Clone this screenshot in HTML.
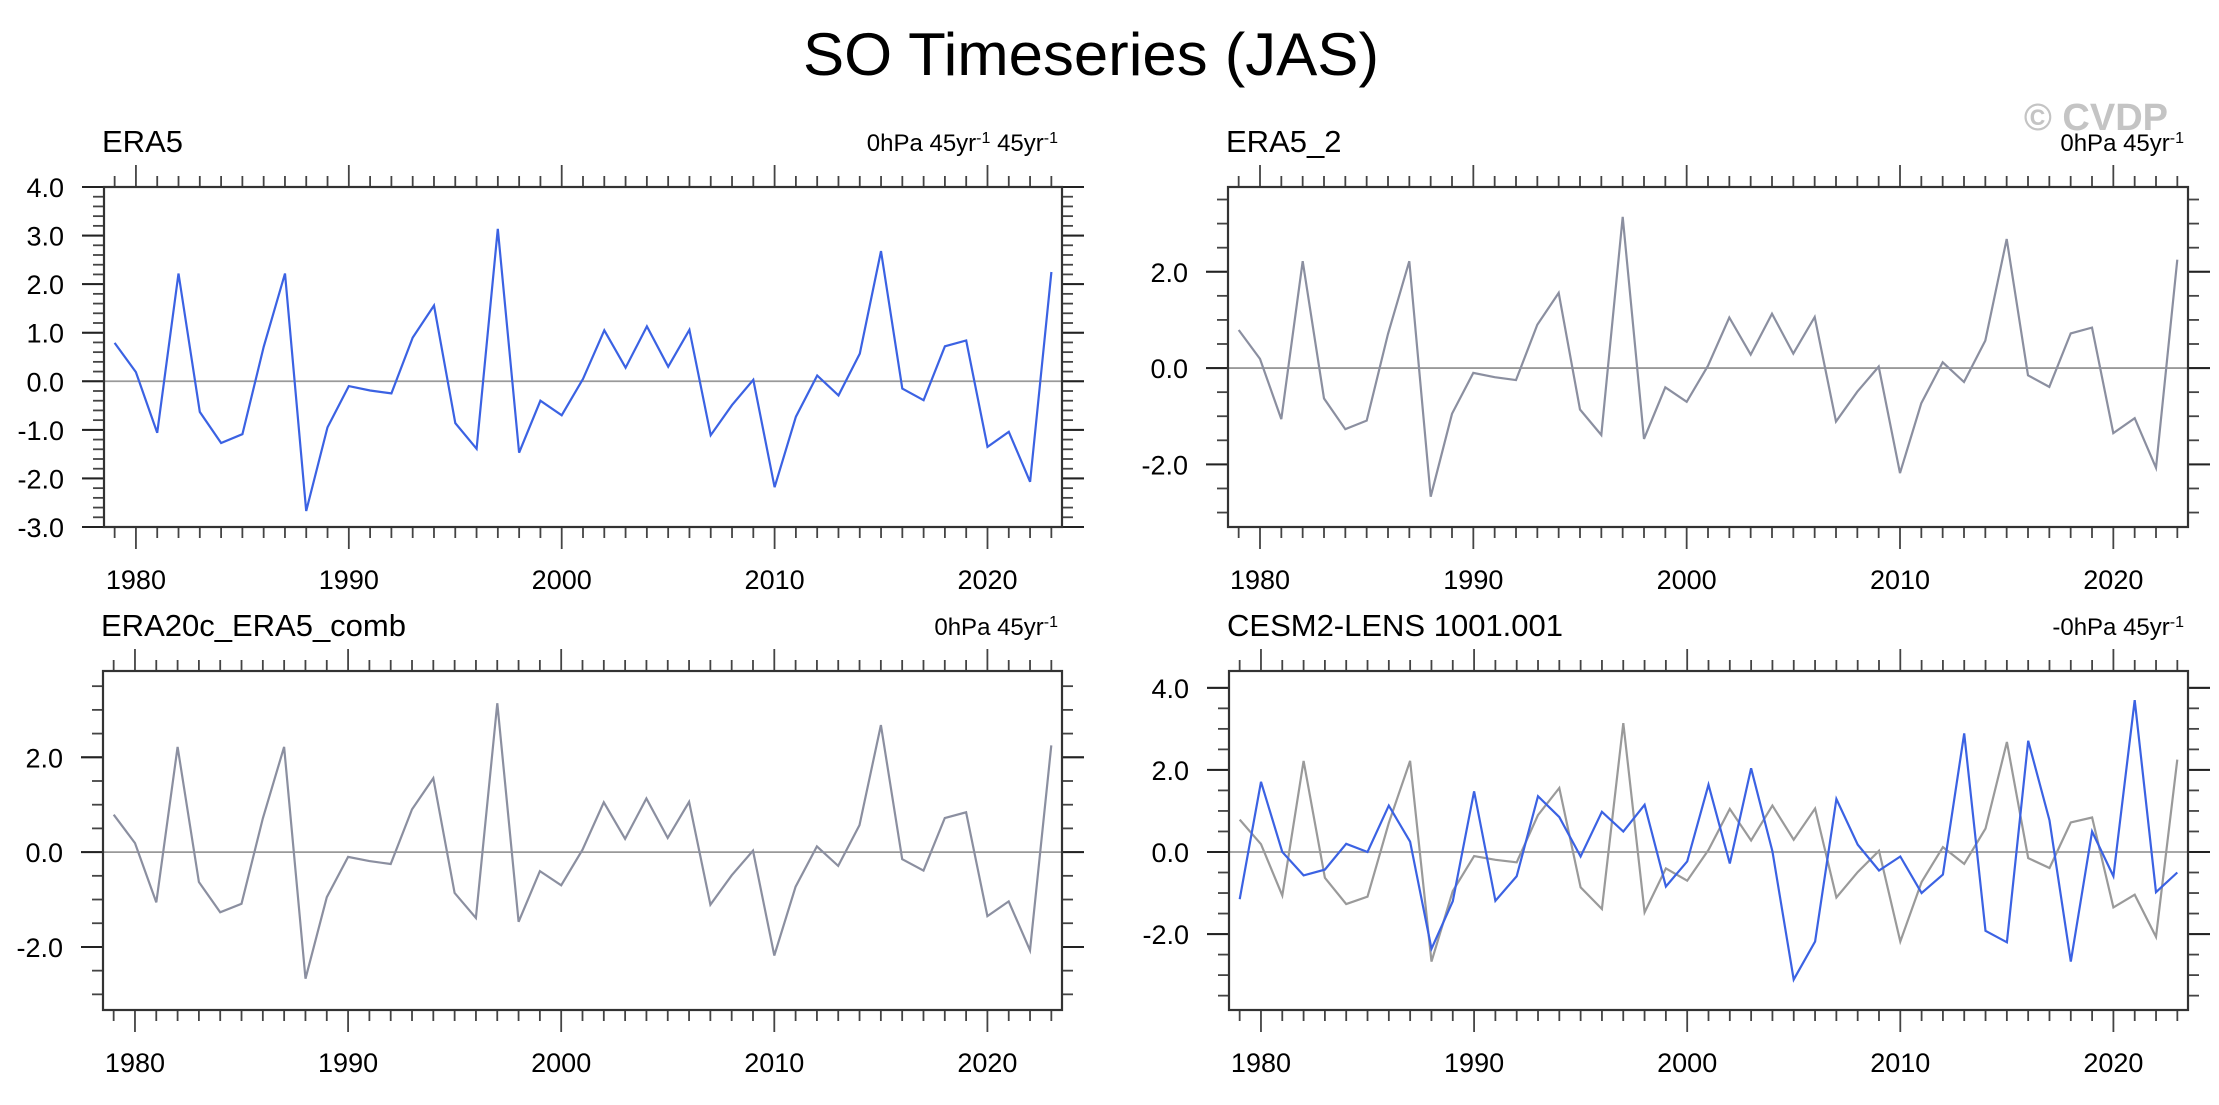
<!DOCTYPE html>
<html><head><meta charset="utf-8"><style>
html,body{margin:0;padding:0;background:#fff;}
svg{display:block;font-family:"Liberation Sans",Arial,sans-serif;}
</style></head><body>
<svg id="chart" width="2219" height="1105" viewBox="0 0 2219 1105" xmlns="http://www.w3.org/2000/svg">
<rect width="2219" height="1105" fill="#fff"/>
<text x="1091" y="75" font-size="60" text-anchor="middle" textLength="576" lengthAdjust="spacingAndGlyphs">SO Timeseries (JAS)</text>
<text x="2168" y="130" font-size="38" font-weight="bold" fill="#c4c4c4" text-anchor="end">© CVDP</text>
</svg>
<script>
const years = [];
for (let y = 1979; y <= 2023; y++) years.push(y);
const era5Values = [0.79,0.19,-1.06,2.22,-0.63,-1.27,-1.09,0.71,2.22,-2.67,-0.95,-0.10,-0.19,-0.25,0.90,1.56,-0.86,-1.39,3.14,-1.47,-0.40,-0.70,0.05,1.05,0.28,1.13,0.30,1.06,-1.11,-0.49,0.03,-2.18,-0.73,0.12,-0.29,0.57,2.68,-0.15,-0.39,0.72,0.84,-1.35,-1.04,-2.07,2.25];
const cesmValues = [-1.15,1.71,0.0,-0.57,-0.43,0.20,0.0,1.13,0.25,-2.36,-1.20,1.48,-1.19,-0.59,1.36,0.85,-0.11,0.98,0.50,1.15,-0.84,-0.23,1.64,-0.28,2.04,0.02,-3.11,-2.18,1.29,0.18,-0.45,-0.11,-1.0,-0.55,2.89,-1.92,-2.20,2.71,0.77,-2.67,0.50,-0.59,3.70,-0.98,-0.50];
const xTickLabels = ["1980","1990","2000","2010","2020"];
const p1YTicks = [-3,-2,-1,0,1,2,3,4];
const p234YTicks = [-2,0,2];
const p4YTicks = [-2,0,2,4];

const NS = "http://www.w3.org/2000/svg";
const svg = document.getElementById("chart");
function mk(tag, attrs, parent) {
  const e = document.createElementNS(NS, tag);
  for (const k in attrs) e.setAttribute(k, attrs[k]);
  (parent || svg).appendChild(e);
  return e;
}

function panel(cfg) {
  const g = mk("g", {});
  
  
  const L = cfg.x0, R = cfg.x1, T = cfg.y0, B = cfg.y1;
  const xs = v => L + (v - 1978.5) / 45 * (R - L);
  const ys = v => T + (cfg.ymax - v) / (cfg.ymax - cfg.ymin) * (B - T);
  for (let yr = 1979; yr <= 2023; yr++) {
    const major = yr % 10 === 0;
    const len = major ? 22 : 11;
    const x = xs(yr);
    const t1 = mk("line", {x1:x, x2:x, y1:T, y2:T-len, stroke:"#444", "stroke-width":1.8}, g);
    
    
    const t2 = mk("line", {x1:x, x2:x, y1:B, y2:B+len, stroke:"#444", "stroke-width":1.8}, g);
    
    
  }
  xTickLabels.forEach(lab => {
    const t = mk("text", {x:xs(+lab), y:B+62, "font-size":27, "text-anchor":"middle"}, g);
    t.textContent = lab;
    
    
  });
  const step = cfg.minor;
  for (let v = Math.ceil(cfg.ymin/step-1e-6)*step; v <= cfg.ymax + 1e-6; v += step) {
    const y = ys(v);
    const isMaj = cfg.yticks.some(m => Math.abs(m - v) < 1e-6);
    const len = isMaj ? 22 : 11;
    const a = mk("line", {x1:L, x2:L-len, y1:y, y2:y, stroke:"#444", "stroke-width":1.8}, g);
    
    
    const b = mk("line", {x1:R, x2:R+len, y1:y, y2:y, stroke:"#444", "stroke-width":1.8}, g);
    
    
  }
  cfg.yticks.forEach(v => {
    const y = ys(v);
    const a = mk("line", {x1:L, x2:L-22, y1:y, y2:y, stroke:"#222", "stroke-width":2}, g);
    
    
    const b = mk("line", {x1:R, x2:R+22, y1:y, y2:y, stroke:"#222", "stroke-width":2}, g);
    
    
    const t = mk("text", {x:L-40, y:y+10, "font-size":27, "text-anchor":"end"}, g);
    t.textContent = v.toFixed(1);
    
    
  });
  const z = mk("line", {x1:L, x2:R, y1:ys(0), y2:ys(0), stroke:"#999", "stroke-width":1.8}, g);
  
  
  cfg.series.forEach(s => {
    const pts = s.values.map((v, i) => xs(years[i]).toFixed(1) + "," + ys(v).toFixed(1)).join(" ");
    const p = mk("polyline", {points:pts, fill:"none", stroke:s.color, "stroke-width":2.2, "stroke-linejoin":"miter"}, g);
    
    
  });
  const f = mk("rect", {x:L, y:T, width:R-L, height:B-T, fill:"none", stroke:"#333", "stroke-width":2.2}, g);
  
  
  const tl = mk("text", {x:L-2, y:T-35, "font-size":31}, g);
  tl.textContent = cfg.title;
  
  
  const tr = mk("text", {x:R-4, y:T-36, "font-size":24, "text-anchor":"end"}, g);
  tr.innerHTML = cfg.right;
  
  
}

const sup = '<tspan baseline-shift="super" font-size="16">-1</tspan>';
panel({name:"panel-era5", x0:104, x1:1062, y0:187, y1:527, ymin:-3, ymax:4, minor:0.2, yticks:p1YTicks,
  title:"ERA5", right:"0hPa 45yr"+sup+" 45yr"+sup,
  series:[{name:"era5-line", values:era5Values, color:"#3b62e3"}]});
panel({name:"panel-era5-2", x0:1228, x1:2188, y0:187, y1:527, ymin:-3.30, ymax:3.76, minor:0.5, yticks:p234YTicks,
  title:"ERA5_2", right:"0hPa 45yr"+sup,
  series:[{name:"era5-2-line", values:era5Values, color:"#8b8fa0"}]});
panel({name:"panel-era20c-era5-comb", x0:103, x1:1062, y0:671, y1:1010, ymin:-3.33, ymax:3.82, minor:0.5, yticks:p234YTicks,
  title:"ERA20c_ERA5_comb", right:"0hPa 45yr"+sup,
  series:[{name:"era20c-line", values:era5Values, color:"#8b8fa0"}]});
panel({name:"panel-cesm2-lens", x0:1229, x1:2188, y0:671, y1:1010, ymin:-3.85, ymax:4.41, minor:0.5, yticks:p4YTicks,
  title:"CESM2-LENS 1001.001", right:"-0hPa 45yr"+sup,
  series:[{name:"obs-reference-line", values:era5Values, color:"#9a9a9a"},
          {name:"cesm2-line", values:cesmValues, color:"#3b62e3"}]});
</script>
</body></html>
